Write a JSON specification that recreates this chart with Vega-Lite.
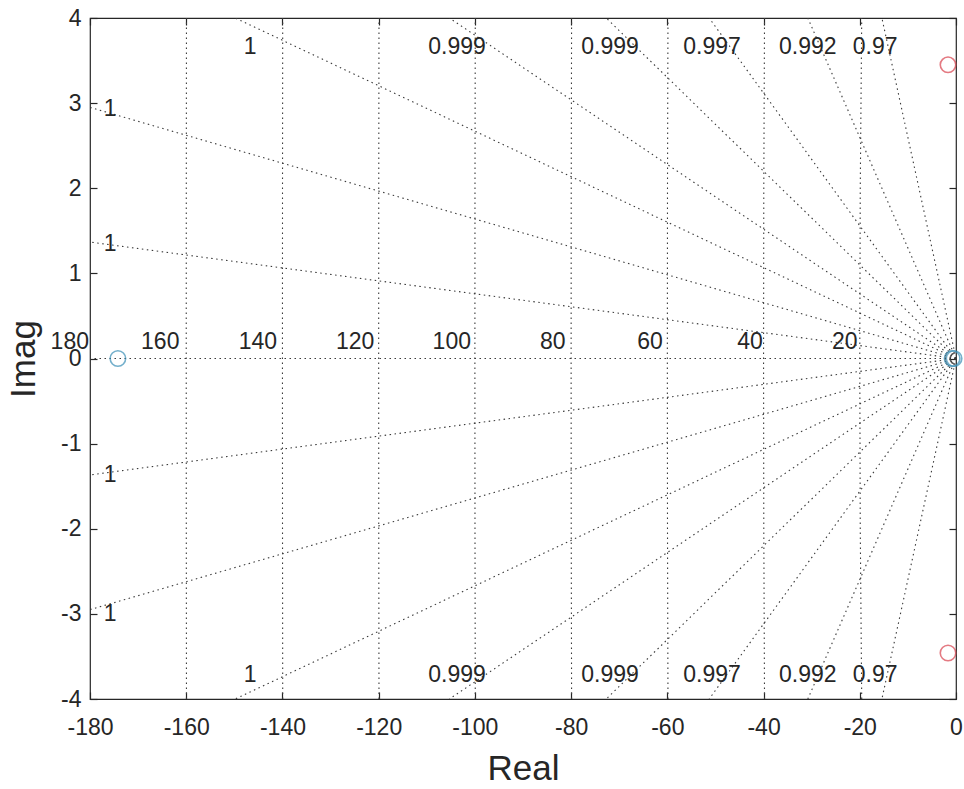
{
  "$schema": "https://vega.github.io/schema/vega-lite/v6.json",
  "width": 866,
  "height": 681,
  "autosize": "none",
  "padding": {"left": 90, "top": 18, "right": 8, "bottom": 90},
  "background": "white",
  "config": {
    "view": {"stroke": "#262626", "strokeWidth": 1.2},
    "font": "Liberation Sans",
    "axis": {
      "labelFont": "Liberation Sans",
      "titleFont": "Liberation Sans",
      "labelColor": "#262626",
      "titleColor": "#262626",
      "titleFontWeight": "normal",
      "domain": false,
      "grid": false,
      "labelFlush": false,
      "labelOverlap": false,
      "tickColor": "#262626",
      "tickWidth": 1.2,
      "labelFontSize": 23,
      "titleFontSize": 35
    }
  },
  "datasets": {
    "rays": [
      {"g": "r0", "o": 0, "x": 0, "y": 0}, {"g": "r0", "o": 1, "x": -180, "y": 0},
      {"g": "r1u", "o": 0, "x": 0, "y": 0}, {"g": "r1u", "o": 1, "x": -180, "y": 1.368},
      {"g": "r2u", "o": 0, "x": 0, "y": 0}, {"g": "r2u", "o": 1, "x": -180, "y": 2.95},
      {"g": "r3u", "o": 0, "x": 0, "y": 0}, {"g": "r3u", "o": 1, "x": -149.8, "y": 4},
      {"g": "r4u", "o": 0, "x": 0, "y": 0}, {"g": "r4u", "o": 1, "x": -105.3, "y": 4},
      {"g": "r5u", "o": 0, "x": 0, "y": 0}, {"g": "r5u", "o": 1, "x": -72.7, "y": 4},
      {"g": "r6u", "o": 0, "x": 0, "y": 0}, {"g": "r6u", "o": 1, "x": -51.3, "y": 4},
      {"g": "r7u", "o": 0, "x": 0, "y": 0}, {"g": "r7u", "o": 1, "x": -30.8, "y": 4},
      {"g": "r8u", "o": 0, "x": 0, "y": 0}, {"g": "r8u", "o": 1, "x": -15.4, "y": 4},
      {"g": "r1d", "o": 0, "x": 0, "y": 0}, {"g": "r1d", "o": 1, "x": -180, "y": -1.368},
      {"g": "r2d", "o": 0, "x": 0, "y": 0}, {"g": "r2d", "o": 1, "x": -180, "y": -2.95},
      {"g": "r3d", "o": 0, "x": 0, "y": 0}, {"g": "r3d", "o": 1, "x": -149.8, "y": -4},
      {"g": "r4d", "o": 0, "x": 0, "y": 0}, {"g": "r4d", "o": 1, "x": -105.3, "y": -4},
      {"g": "r5d", "o": 0, "x": 0, "y": 0}, {"g": "r5d", "o": 1, "x": -72.7, "y": -4},
      {"g": "r6d", "o": 0, "x": 0, "y": 0}, {"g": "r6d", "o": 1, "x": -51.3, "y": -4},
      {"g": "r7d", "o": 0, "x": 0, "y": 0}, {"g": "r7d", "o": 1, "x": -30.8, "y": -4},
      {"g": "r8d", "o": 0, "x": 0, "y": 0}, {"g": "r8d", "o": 1, "x": -15.4, "y": -4}
    ],
    "circles": [
      {"wn": 20, "o": 0, "x": -19.596, "y": -4}, {"wn": 20, "o": 1, "x": -19.9, "y": -2}, {"wn": 20, "o": 2, "x": -20, "y": 0}, {"wn": 20, "o": 3, "x": -19.9, "y": 2}, {"wn": 20, "o": 4, "x": -19.596, "y": 4},
      {"wn": 40, "o": 0, "x": -39.8, "y": -4}, {"wn": 40, "o": 1, "x": -39.95, "y": -2}, {"wn": 40, "o": 2, "x": -40, "y": 0}, {"wn": 40, "o": 3, "x": -39.95, "y": 2}, {"wn": 40, "o": 4, "x": -39.8, "y": 4},
      {"wn": 60, "o": 0, "x": -59.866, "y": -4}, {"wn": 60, "o": 1, "x": -59.967, "y": -2}, {"wn": 60, "o": 2, "x": -60, "y": 0}, {"wn": 60, "o": 3, "x": -59.967, "y": 2}, {"wn": 60, "o": 4, "x": -59.866, "y": 4},
      {"wn": 80, "o": 0, "x": -79.9, "y": -4}, {"wn": 80, "o": 1, "x": -79.975, "y": -2}, {"wn": 80, "o": 2, "x": -80, "y": 0}, {"wn": 80, "o": 3, "x": -79.975, "y": 2}, {"wn": 80, "o": 4, "x": -79.9, "y": 4},
      {"wn": 100, "o": 0, "x": -99.92, "y": -4}, {"wn": 100, "o": 1, "x": -99.98, "y": -2}, {"wn": 100, "o": 2, "x": -100, "y": 0}, {"wn": 100, "o": 3, "x": -99.98, "y": 2}, {"wn": 100, "o": 4, "x": -99.92, "y": 4},
      {"wn": 120, "o": 0, "x": -119.933, "y": -4}, {"wn": 120, "o": 1, "x": -119.983, "y": -2}, {"wn": 120, "o": 2, "x": -120, "y": 0}, {"wn": 120, "o": 3, "x": -119.983, "y": 2}, {"wn": 120, "o": 4, "x": -119.933, "y": 4},
      {"wn": 140, "o": 0, "x": -139.943, "y": -4}, {"wn": 140, "o": 1, "x": -139.986, "y": -2}, {"wn": 140, "o": 2, "x": -140, "y": 0}, {"wn": 140, "o": 3, "x": -139.986, "y": 2}, {"wn": 140, "o": 4, "x": -139.943, "y": 4},
      {"wn": 160, "o": 0, "x": -159.95, "y": -4}, {"wn": 160, "o": 1, "x": -159.987, "y": -2}, {"wn": 160, "o": 2, "x": -160, "y": 0}, {"wn": 160, "o": 3, "x": -159.987, "y": 2}, {"wn": 160, "o": 4, "x": -159.95, "y": 4}
    ],
    "zlabels": [
      {"t": "1", "x": -146.7, "y": 3.66}, {"t": "0.999", "x": -103.7, "y": 3.66}, {"t": "0.999", "x": -71.9, "y": 3.66},
      {"t": "0.997", "x": -50.7, "y": 3.66}, {"t": "0.992", "x": -30.8, "y": 3.66}, {"t": "0.97", "x": -16.8, "y": 3.66},
      {"t": "1", "x": -146.7, "y": -3.72}, {"t": "0.999", "x": -103.7, "y": -3.72}, {"t": "0.999", "x": -71.9, "y": -3.72},
      {"t": "0.997", "x": -50.7, "y": -3.72}, {"t": "0.992", "x": -30.8, "y": -3.72}, {"t": "0.97", "x": -16.8, "y": -3.72},
      {"t": "1", "x": -175.8, "y": 2.93}, {"t": "1", "x": -175.8, "y": 1.35},
      {"t": "1", "x": -175.8, "y": -1.37}, {"t": "1", "x": -175.8, "y": -3.0},
      {"t": "180", "x": -184.2, "y": 0.19}, {"t": "160", "x": -165.4, "y": 0.19}, {"t": "140", "x": -145.1, "y": 0.19},
      {"t": "120", "x": -124.9, "y": 0.19}, {"t": "100", "x": -104.8, "y": 0.19}, {"t": "80", "x": -83.8, "y": 0.19},
      {"t": "60", "x": -63.6, "y": 0.19}, {"t": "40", "x": -42.8, "y": 0.19}, {"t": "20", "x": -23.1, "y": 0.19}
    ],
    "pz": [
      {"k": "b", "x": -174.2, "y": 0},
      {"k": "b", "x": -0.4, "y": 0},
      {"k": "b", "x": -0.8, "y": 0},
      {"k": "r", "x": -1.66, "y": 3.45},
      {"k": "r", "x": -1.66, "y": -3.46}
    ]
  },
  "resolve": {"axis": {"x": "independent", "y": "independent"}},
  "layer": [
    {
      "data": {"name": "rays"},
      "mark": {"type": "line", "stroke": "#3a3a3a", "strokeWidth": 1.1, "strokeDash": [1.5, 3.5], "clip": true},
      "encoding": {
        "x": {"field": "x", "type": "quantitative", "scale": {"domain": [-180, 0], "nice": false, "zero": false},
              "axis": {"orient": "bottom", "values": [-180, -160, -140, -120, -100, -80, -60, -40, -20, 0], "tickSize": -7, "labelPadding": 24,
                       "labelExpr": "datum.value < 0 ? '-' + abs(datum.value) : '' + datum.value", "title": "Real", "titlePadding": 12}},
        "y": {"field": "y", "type": "quantitative", "scale": {"domain": [-4, 4], "nice": false, "zero": false},
              "axis": {"orient": "left", "values": [-4, -3, -2, -1, 0, 1, 2, 3, 4], "tickSize": -7, "labelPadding": 16,
                       "labelExpr": "datum.value < 0 ? '-' + abs(datum.value) : '' + datum.value", "title": "Imag", "titlePadding": 19}},
        "detail": {"field": "g"},
        "order": {"field": "o"}
      }
    },
    {
      "data": {"name": "circles"},
      "mark": {"type": "line", "stroke": "#3a3a3a", "strokeWidth": 1.1, "strokeDash": [1.5, 3.5], "clip": true},
      "encoding": {
        "x": {"field": "x", "type": "quantitative",
              "axis": {"orient": "top", "values": [-180, -160, -140, -120, -100, -80, -60, -40, -20, 0], "tickSize": -7, "labels": false, "title": null}},
        "y": {"field": "y", "type": "quantitative",
              "axis": {"orient": "right", "values": [-4, -3, -2, -1, 0, 1, 2, 3, 4], "tickSize": -7, "labels": false, "title": null}},
        "detail": {"field": "wn"},
        "order": {"field": "o"}
      }
    },
    {
      "data": {"name": "zlabels"},
      "mark": {"type": "text", "fontSize": 23, "font": "Liberation Sans", "color": "#262626", "align": "center", "baseline": "middle"},
      "encoding": {
        "x": {"field": "x", "type": "quantitative", "axis": null},
        "y": {"field": "y", "type": "quantitative", "axis": null},
        "text": {"field": "t"}
      }
    },
    {
      "data": {"name": "pz"},
      "mark": {"type": "point", "shape": "circle", "filled": false, "size": 240, "strokeWidth": 1.6, "clip": false},
      "encoding": {
        "x": {"field": "x", "type": "quantitative", "axis": null},
        "y": {"field": "y", "type": "quantitative", "axis": null},
        "color": {"field": "k", "type": "nominal", "scale": {"domain": ["b", "r"], "range": ["#3a8fb7", "#d9424e"]}, "legend": null}
      }
    }
  ]
}
